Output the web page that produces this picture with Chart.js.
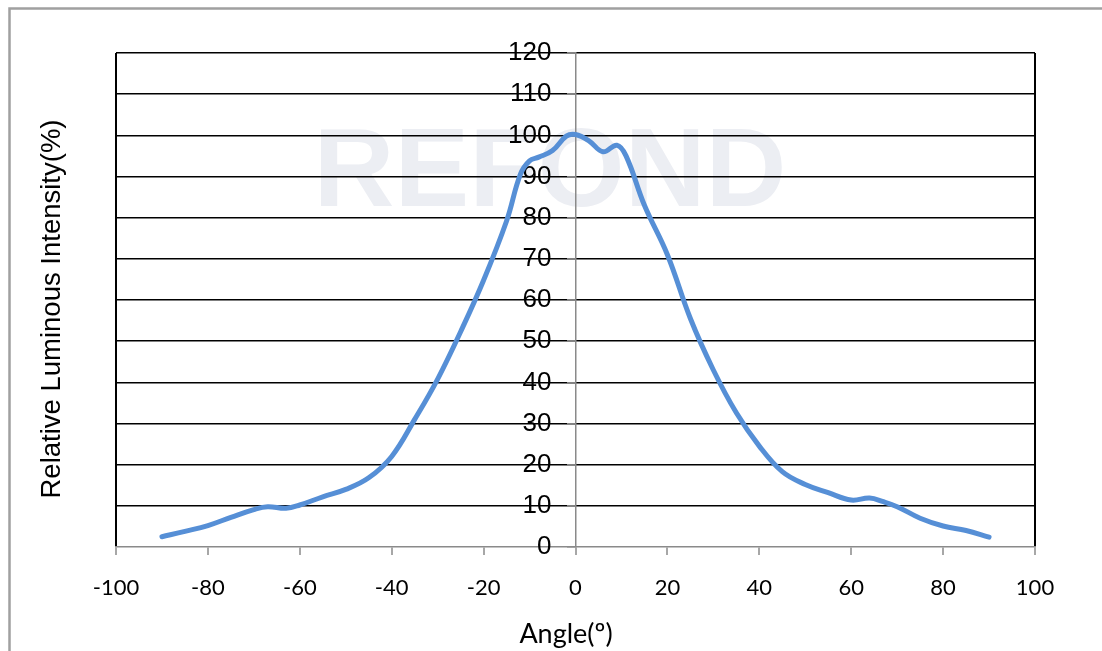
<!DOCTYPE html>
<html>
<head>
<meta charset="utf-8">
<script src="https://cdn.jsdelivr.net/npm/chart.js@4.4.1/dist/chart.umd.min.js"></script>
<style>
    html, body { margin: 0; padding: 0; background: #fff; }
    #wrap { width: 1102px; height: 651px; }
</style>
</head>
<body>
<div id="wrap"><canvas id="angleChart"></canvas></div>
<script>
// Dados
const angles = [-90, -85, -80, -75, -70, -67, -63, -60, -55, -50, -45, -40, -35, -30, -25, -20, -15, -12, -10, -8, -5, -2, 0, 3, 6, 9, 11, 15, 20, 25, 30, 35, 40, 45, 50, 55, 60, 64, 67, 70, 75, 80, 85, 90];
const intensity = [2.5, 3.8, 5.2, 7.2, 9.1, 9.8, 9.4, 10.2, 12.2, 14.0, 16.8, 22.0, 31.0, 40.8, 52.3, 64.8, 79.2, 90.5, 93.8, 94.7, 96.3, 99.8, 100.2, 98.6, 96.0, 97.6, 95.0, 83.0, 71.0, 55.5, 43.0, 32.6, 24.5, 18.3, 15.2, 13.2, 11.4, 11.9, 11.0, 9.8, 7.0, 5.1, 4.0, 2.4];
const xTicks = [-100, -80, -60, -40, -20, 0, 20, 40, 60, 80, 100];
const yTicks = [0, 10, 20, 30, 40, 50, 60, 70, 80, 90, 100, 110, 120];

const yTitle = 'Relative Luminous Intensity(%)';
const xTitle = 'Angle(º)';

// Moldura, marca d'água e títulos
const decorPlugin = {
    id: 'decor',
    beforeDraw(chart) {
        const ctx = chart.ctx;
        ctx.save();
        ctx.fillStyle = '#fff';
        ctx.fillRect(0, 0, chart.width, chart.height);
        ctx.fillStyle = '#eceef3';
        ctx.font = 'bold 112px "Liberation Sans", Arial, sans-serif';
        ctx.textAlign = 'center';
        ctx.textBaseline = 'alphabetic';
        ctx.fillText('REFOND', 550, 206);
        ctx.strokeStyle = '#a0a0a0';
        ctx.lineWidth = 2.5;
        ctx.strokeRect(9.5, 8.5, 1300, 1000);
        ctx.restore();
    },
    afterDraw(chart) {
        const ctx = chart.ctx;
        ctx.save();
        ctx.fillStyle = '#000';
        ctx.font = '27.5px "Liberation Sans", Arial, sans-serif';
        ctx.textAlign = 'center';
        ctx.textBaseline = 'middle';
        ctx.translate(52, 309);
        ctx.rotate(-Math.PI / 2);
        ctx.fillText(yTitle, 0, 0);
        ctx.restore();

        ctx.save();
        ctx.fillStyle = '#000';
        ctx.font = '27px Lato, "Open Sans", sans-serif';
        ctx.textAlign = 'center';
        ctx.textBaseline = 'middle';
        ctx.fillText(xTitle, 566, 634);
        ctx.restore();
    }
};

const ctx = document.getElementById('angleChart').getContext('2d');
const angleChart = new Chart(ctx, {
    type: 'scatter',
    data: {
        datasets: [{
            label: 'Intensidade',
            data: angles.map((a, i) => ({ x: a, y: intensity[i] })),
            showLine: true,
            borderColor: '#568fd6',
            borderWidth: 5,
            pointRadius: 0,
            tension: 0.4,
            borderCapStyle: 'round',
            borderJoinStyle: 'round'
        }]
    },
    options: {
        responsive: true,
        maintainAspectRatio: false,
        animation: false,
        layout: {
            padding: { left: 116, right: 67, top: 53, bottom: 0 }
        },
        plugins: {
            legend: { display: false },
            tooltip: { enabled: false }
        },
        scales: {
            x: {
                type: 'linear',
                min: -100,
                max: 100,
                afterBuildTicks: scale => { scale.ticks = xTicks.map(v => ({ value: v })); },
                afterFit: scale => { scale.height = 104; },
                grid: {
                    color: c => (c.tick && Math.abs(c.tick.value) === 100) ? '#000' : 'transparent',
                    lineWidth: 2,
                    tickColor: '#8a8a8a',
                    tickLength: 8,
                    tickWidth: 1.5
                },
                border: { color: '#8a8a8a', width: 1.5 },
                ticks: {
                    color: '#000',
                    padding: 20,
                    maxRotation: 0,
                    font: { family: 'Lato, "Open Sans", sans-serif', size: 22 }
                }
            },
            y: {
                type: 'linear',
                min: 0,
                max: 120,
                // o centro da área do gráfico coincide com x = 0
                position: 'center',
                afterBuildTicks: scale => { scale.ticks = yTicks.map(v => ({ value: v })); },
                grid: {
                    color: c => (c.tick && c.tick.value === 0) ? 'transparent' : '#000',
                    lineWidth: 1.6,
                    tickColor: '#8a8a8a',
                    tickLength: 8,
                    tickWidth: 1.5
                },
                border: { color: '#8a8a8a', width: 1.5 },
                ticks: {
                    color: '#000',
                    padding: 16,
                    font: { family: '"Liberation Sans", Arial, sans-serif', size: 26 }
                }
            }
        }
    },
    plugins: [decorPlugin]
});
</script>
</body>
</html>
